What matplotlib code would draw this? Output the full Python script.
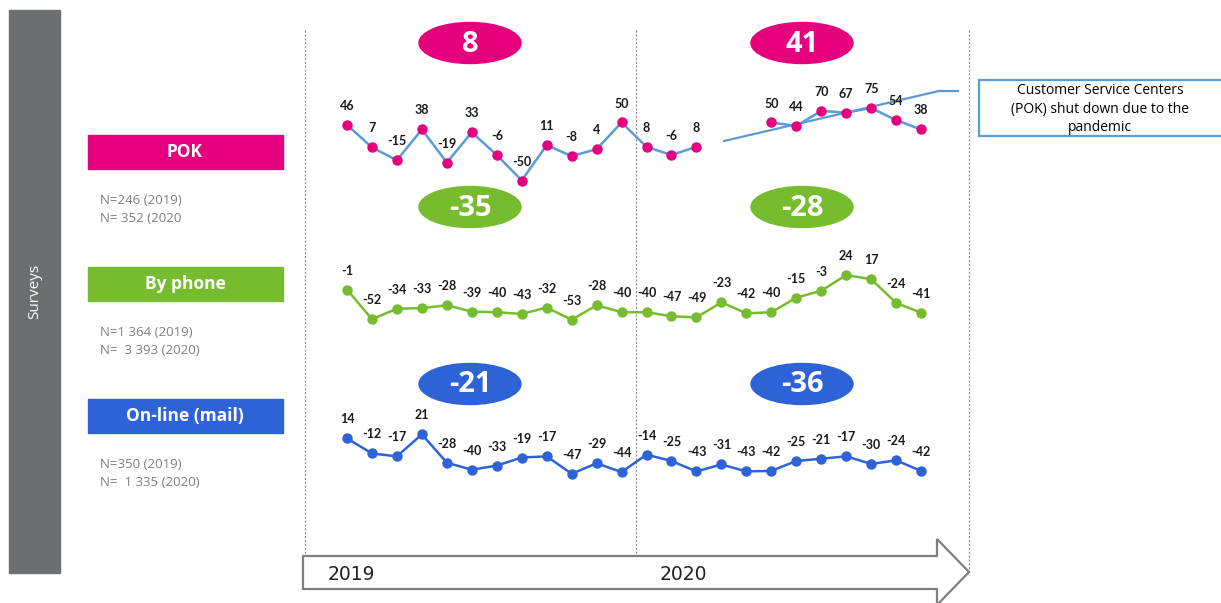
import numpy as np
import matplotlib.pyplot as plt
from matplotlib.patches import Ellipse, Rectangle, Polygon

nan = np.nan

# monthly scores, Jan 2019 .. Dec 2020 (24 months)
pok = [46, 7, -15, 38, -19, 33, -6, -50, 11, -8, 4, 50,
       8, -6, 8, nan, nan, 50, 44, 70, 67, 75, 54, 38]
phone = [-1, -52, -34, -33, -28, -39, -40, -43, -32, -53, -28, -40,
         -40, -47, -49, -23, -42, -40, -15, -3, 24, 17, -24, -41]
online = [14, -12, -17, 21, -28, -40, -33, -19, -17, -47, -29, -44,
          -14, -25, -43, -31, -43, -42, -25, -21, -17, -30, -24, -42]

# yearly scores shown in the badges (2019, 2020)
pok_year = [8, 41]
phone_year = [-35, -28]
online_year = [-21, -36]

names = ["POK", "By phone", "On-line (mail)"]
sizes = [["N=246 (2019)", "N= 352 (2020"],
         ["N=1 364 (2019)", "N=  3 393 (2020)"],
         ["N=350 (2019)", "N=  1 335 (2020)"]]
years = ["2019", "2020"]
note = "Customer Service Centers\n(POK) shut down due to the\npandemic"

W, H = 1221, 603
fig = plt.figure(figsize=(W / 100, H / 100), dpi=100)

# background layer in pixel units for the decorations
bg = fig.add_axes([0, 0, 1, 1])
bg.set_xlim(0, W)
bg.set_ylim(H, 0)
bg.axis("off")

magenta = "#e5007d"
green = "#77bc2f"
blue = "#2e63d8"
lightblue = "#5b9bd5"
grey = "#7f7f7f"

# side bar
bg.add_patch(Rectangle((9, 10), 51, 563, color="#6d6e70", zorder=1))
bg.text(35, 291, "Surveys", rotation=90, color="white", fontsize=11,
        family="Open Sans", ha="center", va="center")

# legend boxes with sample sizes
box_y = [135, 267, 399]
box_col = [magenta, green, blue]
for name, n, y, col in zip(names, sizes, box_y, box_col):
    bg.add_patch(Rectangle((88, y), 195, 34, color=col, zorder=1))
    bg.text(185, y + 17, name, color="white", fontsize=12.5, fontweight="bold",
            family="Open Sans", ha="center", va="center")
    bg.text(100, y + 65, n[0], color=grey, fontsize=9.5, family="Open Sans",
            ha="left", va="center")
    bg.text(100, y + 83, n[1], color=grey, fontsize=9.5, family="Open Sans",
            ha="left", va="center")

# year separators
for x in [305, 636, 969]:
    bg.plot([x, x], [30, 571], color="#8c8c8c", lw=0.8, ls=(0, (2, 1.5)), zorder=1)

# timeline arrow
arrow = Polygon([(303, 556), (937, 556), (937, 539), (969, 572), (937, 605),
                 (937, 589), (303, 589)], closed=True, facecolor="white",
                edgecolor=grey, lw=1.6, zorder=2)
bg.add_patch(arrow)
bg.text(351, 575, years[0], fontsize=13.5, family="Liberation Sans Narrow",
        ha="center", va="center", color="#222222", zorder=3)
bg.text(683, 574, years[1], fontsize=13.5, family="Liberation Sans Narrow",
        ha="center", va="center", color="#222222", zorder=3)

# yearly badges
badge_y = [43, 207, 384]
for vals, y, col in zip([pok_year, phone_year, online_year], badge_y, box_col):
    for v, x in zip(vals, [470, 802]):
        bg.add_patch(Ellipse((x, y), 102, 41, color=col, zorder=2))
        bg.text(x, y + 1, str(v), color="white", fontsize=21, fontweight="bold",
                family="Open Sans", ha="center", va="center", zorder=3)

# callout
bg.add_patch(Rectangle((979, 80), 250, 56, facecolor="white",
                       edgecolor=lightblue, lw=1.6, zorder=2))
bg.text(1100, 109, note, fontsize=10, family="Open Sans", ha="center",
        va="center", linespacing=1.35, zorder=3)
bg.plot([724, 939, 958], [141, 91, 91], color=lightblue, lw=1.6, zorder=4)

# monthly series, one axes per channel, same scale
months = np.arange(24)
x0, step = 347, 24.96
xl = ((305 - x0) / step, (969 - x0) / step)
scale = 0.58
lo, hi = -80, 120
series = [(pok, 151.5, lightblue, magenta),
          (phone, 289, green, green),
          (online, 446.5, blue, blue)]
for vals, base, lcol, mcol in series:
    top = base - hi * scale
    bot = base - lo * scale
    ax = fig.add_axes([305 / W, 1 - bot / H, (969 - 305) / W, (bot - top) / H])
    ax.set_xlim(*xl)
    ax.set_ylim(lo, hi)
    ax.axis("off")
    ax.patch.set_alpha(0)
    ax.plot(months, vals, color=lcol, lw=1.8, marker="o", ms=6.5,
            mfc=mcol, mec=mcol, zorder=3)
    for m, v in zip(months, vals):
        if np.isnan(v):
            continue
        ax.annotate(f"{v:.0f}", (m, v), xytext=(0, 19), textcoords="offset pixels",
                    ha="center", va="center", fontsize=9, fontweight="bold",
                    family="Lato", color="#1a1a1a")

fig.savefig("out.png", dpi=100)
